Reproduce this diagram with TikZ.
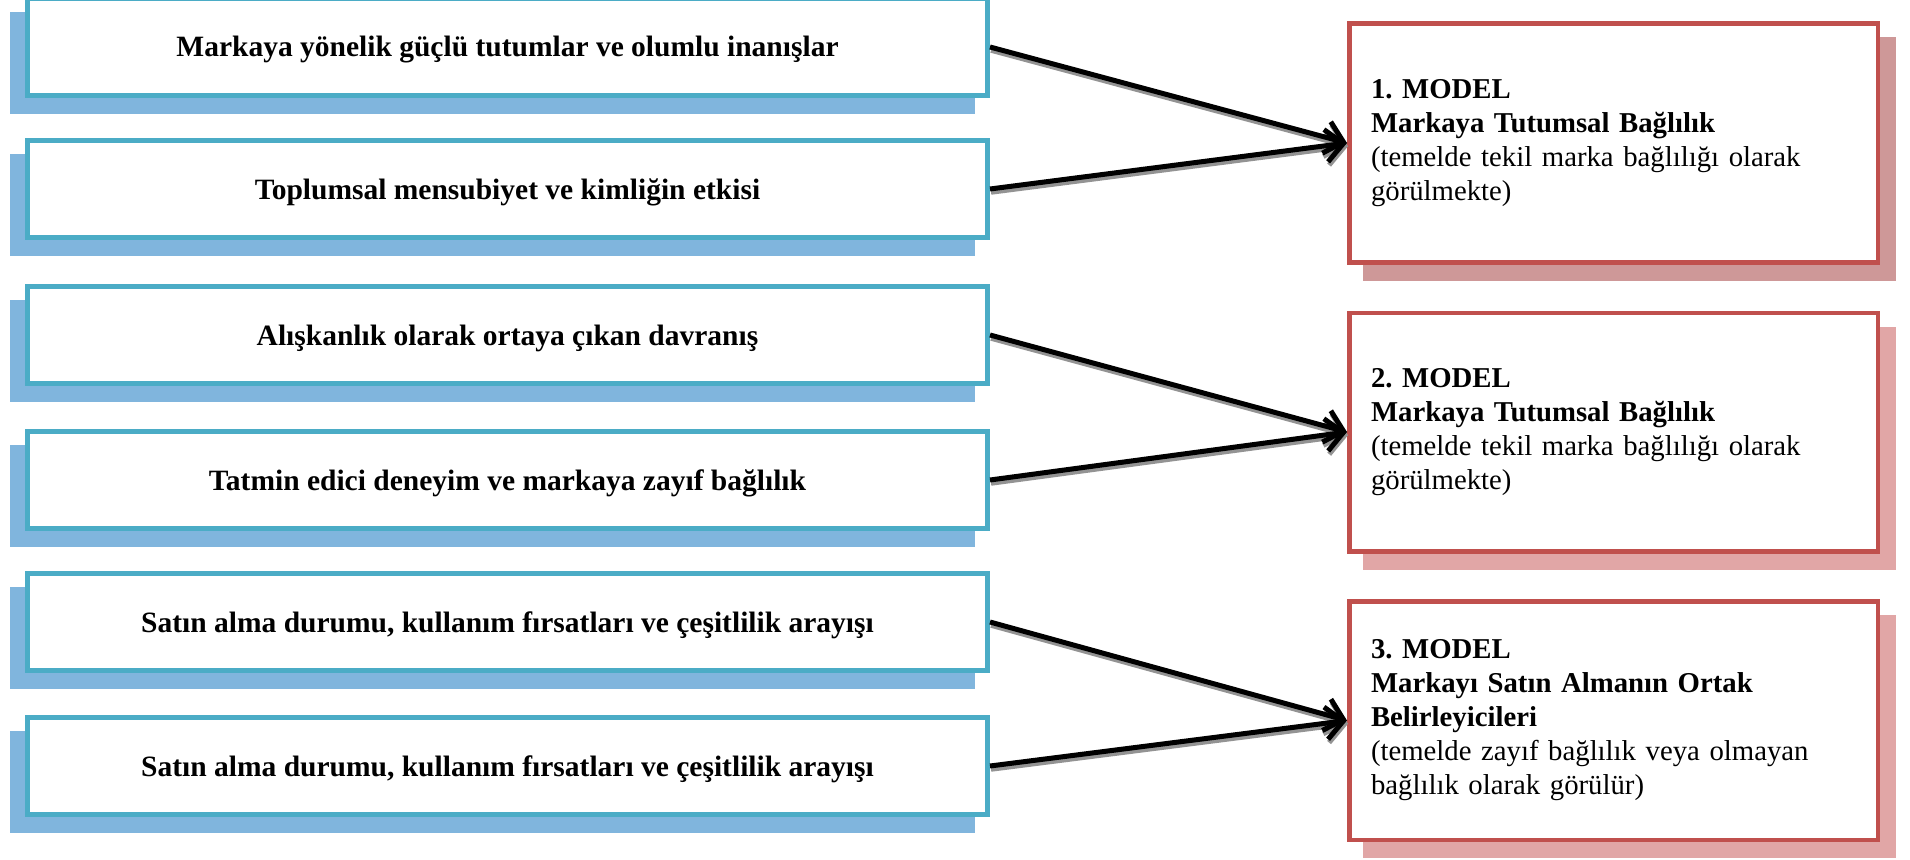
\documentclass[tikz,border=0pt]{standalone}
\usepackage{fontspec}
\setmainfont{Liberation Serif}
\usetikzlibrary{arrows.meta,shadows}
\definecolor{tealline}{RGB}{75,172,198}
\definecolor{blueshade}{RGB}{128,181,221}
\definecolor{redline}{RGB}{192,80,77}
\definecolor{redshade}{RGB}{206,152,152}
\definecolor{pinkshade}{RGB}{225,166,166}
\frenchspacing
\begin{document}
\begin{tikzpicture}[x=0.4pt, y=-0.4pt,
		factor/.style={draw=tealline, line width=2pt, fill=white, inner sep=0pt,
			minimum width=384pt, minimum height=38.8pt, text height=1em, text depth=0.2em,
			font=\fontsize{11.8}{13.6}\selectfont\bfseries,
			drop shadow={shadow xshift=-6pt, shadow yshift=-6.4pt, fill=blueshade, draw=blueshade, opacity=1}},
		model/.style={draw=redline, line width=1.8pt, fill=white, text width=194pt, align=left,
			inner xsep=8.7pt, minimum height=95.4pt, font=\fontsize{11.5}{13.6}\selectfont,
			drop shadow={shadow xshift=6.4pt, shadow yshift=-6.4pt, fill=#1, draw=#1, opacity=1}},
		model/.default=pinkshade,
		link/.style={line width=2pt, -{Straight Barb[length=7pt,width=13pt]}},
		linkshade/.style={link, draw=gray!85}]
		\useasboundingbox (0,0) rectangle (1910,859);
		
		\node[factor] (f1) at (507.5,47) {Markaya yönelik güçlü tutumlar ve olumlu inanışlar};
		\node[factor] (f2) at (507.5,189) {Toplumsal mensubiyet ve kimliğin etkisi};
		\node[factor] (f3) at (507.5,335) {Alışkanlık olarak ortaya çıkan davranış};
		\node[factor] (f4) at (507.5,480) {Tatmin edici deneyim ve markaya zayıf bağlılık};
		\node[factor] (f5) at (507.5,622) {Satın alma durumu, kullanım fırsatları ve çeşitlilik arayışı};
		\node[factor] (f6) at (507.5,766) {Satın alma durumu, kullanım fırsatları ve çeşitlilik arayışı};
		
		\node[model=redshade] (m1) at (1613.5,143) {\textbf{1. MODEL}\\ \textbf{Markaya Tutumsal Bağlılık}\\ (temelde tekil marka bağlılığı olarak\\ görülmekte)};
		\node[model] (m2) at (1613.5,432) {\textbf{2. MODEL}\\ \textbf{Markaya Tutumsal Bağlılık}\\ (temelde tekil marka bağlılığı olarak\\ görülmekte)};
		\node[model] (m3) at (1613.5,720.5) {\textbf{3. MODEL}\\ \textbf{Markayı Satın Almanın Ortak}\\ \textbf{Belirleyicileri}\\ (temelde zayıf bağlılık veya olmayan\\ bağlılık olarak görülür)};
		
		\begin{scope}[transform canvas={shift={(0.4pt,-1.3pt)}}]
			\draw[linkshade] (f1.east) -- (m1.west);
			\draw[linkshade] (f2.east) -- (m1.west);
			\draw[linkshade] (f3.east) -- (m2.west);
			\draw[linkshade] (f4.east) -- (m2.west);
			\draw[linkshade] (f5.east) -- (m3.west);
			\draw[linkshade] (f6.east) -- (m3.west);
		\end{scope}
		\draw[link] (f1.east) -- (m1.west);
		\draw[link] (f2.east) -- (m1.west);
		\draw[link] (f3.east) -- (m2.west);
		\draw[link] (f4.east) -- (m2.west);
		\draw[link] (f5.east) -- (m3.west);
		\draw[link] (f6.east) -- (m3.west);
\end{tikzpicture}
\end{document}
